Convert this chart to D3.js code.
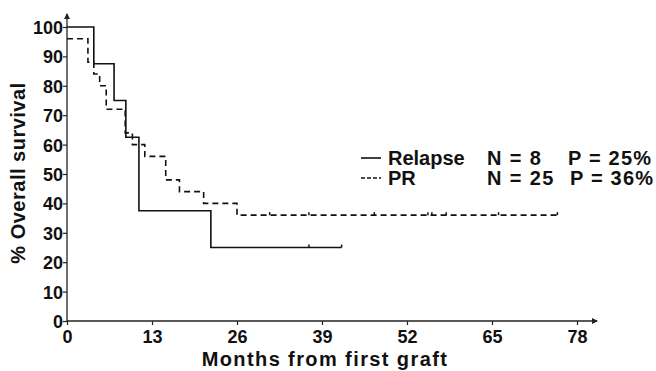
<!DOCTYPE html>
<html>
<head>
<meta charset="utf-8">
<script src="https://cdn.jsdelivr.net/npm/d3@7"></script>
<style>
  body { margin: 0; background: #fff; }
  svg { display: block; }
  text { font-family: 'Liberation Sans', Arial, sans-serif; font-weight: bold; fill: #111; }
</style>
</head>
<body>
<div id="plot"></div>
<script>
// Kaplan-Meier steps
let relapseTimes = [0, 4.1, 7.2, 9.0, 11.0, 22.0]
let relapseSurv = [100, 87.5, 75, 62.5, 37.5, 25]
let relapseEnd = 42
let relapseCensor = [37, 42]

let prTimes = [0, 3.2, 4.1, 5.0, 6.0, 8.9, 10.0, 11.9, 15.1, 17.2, 20.9, 26.0]
let prSurv = [96, 88, 84, 80, 72, 64, 60, 56, 48, 44, 40, 36]
let prEnd = 75
let prCensor = [31, 37, 47, 55.2, 55.8, 58, 66, 75]

let xTicks = [0, 13, 26, 39, 52, 65, 78]
let yTicks = [0, 10, 20, 30, 40, 50, 60, 70, 80, 90, 100]

let legendRows = [
  { name: 'Relapse', n: 'N = 8', p: 'P = 25%', dash: null },
  { name: 'PR', n: 'N = 25', p: 'P = 36%', dash: '4,2' }
]

let width = 656
let height = 371

let x = d3.scaleLinear().domain([0, 78]).range([67, 577])
let y = d3.scaleLinear().domain([0, 100]).range([321, 27])

let svg = d3.select('#plot').append('svg')
  .attr('width', width)
  .attr('height', height)

// axes
let xAxis = svg.append('g')
  .attr('transform', 'translate(0,' + y(0) + ')')
  .call(d3.axisBottom(x).tickValues(xTicks).tickSize(4).tickPadding(3))
let yAxis = svg.append('g')
  .attr('transform', 'translate(' + x(0) + ',0)')
  .call(d3.axisLeft(y).tickValues(yTicks).tickSize(4).tickPadding(0))

svg.selectAll('.domain').remove()
svg.selectAll('.tick line').attr('stroke', '#222').attr('stroke-width', 1.2)
svg.selectAll('.tick text')
  .style('font-size', '18px')
  .style('font-family', "'Liberation Sans', Arial, sans-serif")
  .style('font-weight', 'bold')
  .style('fill', '#111')
xAxis.selectAll('.tick text').attr('dy', '0.85em')
yAxis.selectAll('.tick text').attr('dy', '0.36em')

// axis lines with arrows
svg.append('line')
  .attr('x1', x(0)).attr('y1', y(0))
  .attr('x2', 597).attr('y2', y(0))
  .attr('stroke', '#222').attr('stroke-width', 1.3)
svg.append('path')
  .attr('d', 'M598,' + y(0) + 'l-6,-3l0,6z')
  .attr('fill', '#222')
svg.append('line')
  .attr('x1', x(0)).attr('y1', y(0))
  .attr('x2', x(0)).attr('y2', 14)
  .attr('stroke', '#222').attr('stroke-width', 1.3)
svg.append('path')
  .attr('d', 'M' + x(0) + ',13l-3,6l6,0z')
  .attr('fill', '#222')

// survival curves
let line = d3.line()
  .x(d => x(d[0]))
  .y(d => y(d[1]))
  .curve(d3.curveStepAfter)

let steps = (times, surv, end) => {
  let pts = times.map((t, i) => [t, surv[i]])
  pts.push([end, surv[surv.length - 1]])
  return pts
}

svg.append('path')
  .datum(steps(relapseTimes, relapseSurv, relapseEnd))
  .attr('d', line)
  .attr('fill', 'none')
  .attr('stroke', '#111')
  .attr('stroke-width', 1.6)

svg.append('path')
  .datum(steps(prTimes, prSurv, prEnd))
  .attr('d', line)
  .attr('fill', 'none')
  .attr('stroke', '#111')
  .attr('stroke-width', 1.6)
  .attr('stroke-dasharray', '6,4')

// censoring marks
let censor = (times, level) => {
  svg.append('g').selectAll('line')
    .data(times)
    .enter().append('line')
    .attr('x1', d => x(d)).attr('x2', d => x(d))
    .attr('y1', y(level)).attr('y2', y(level) - 3)
    .attr('stroke', '#111').attr('stroke-width', 1.5)
}
censor(relapseCensor, 25)
censor(prCensor, 36)

// axis titles
svg.append('text')
  .attr('text-anchor', 'middle')
  .attr('transform', 'translate(25,173)rotate(-90)')
  .style('font-size', '20px')
  .style('letter-spacing', '0.5px')
  .text('% Overall survival')
svg.append('text')
  .attr('text-anchor', 'middle')
  .attr('x', 325).attr('y', 366)
  .style('font-size', '20px')
  .style('letter-spacing', '1.4px')
  .text('Months from first graft')

// legend
let legend = svg.append('g').selectAll('g')
  .data(legendRows)
  .enter().append('g')
  .attr('transform', (d, i) => 'translate(0,' + (165 + i * 20) + ')')

legend.append('line')
  .attr('x1', 361).attr('x2', 381)
  .attr('y1', -7).attr('y2', -7)
  .attr('stroke', '#111').attr('stroke-width', 1.6)
  .attr('stroke-dasharray', d => d.dash)
legend.append('text').attr('x', 388).text(d => d.name)
legend.append('text').attr('x', 487).style('letter-spacing', '1.4px').text(d => d.n)
legend.append('text').attr('x', (d, i) => i === 0 ? 568 : 570).style('letter-spacing', '1.2px').text(d => d.p)
legend.selectAll('text')
  .style('font-size', '20px')
</script>
</body>
</html>
